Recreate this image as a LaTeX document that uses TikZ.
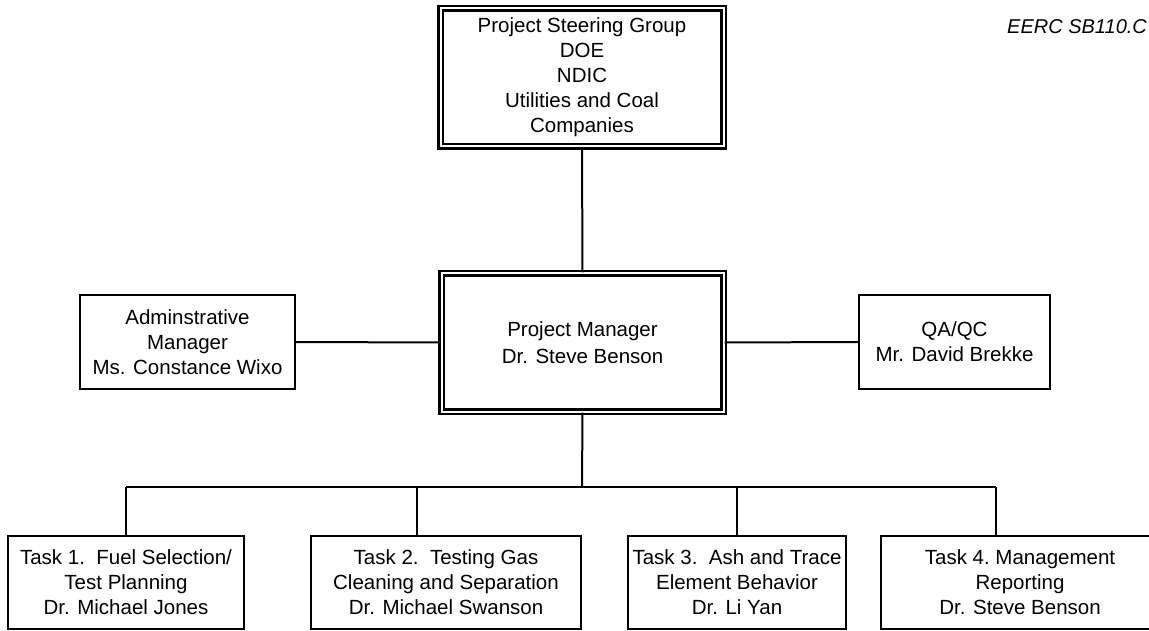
\documentclass[tikz,border=0pt]{standalone}
\usepackage{fontspec}
\setmainfont{Liberation Sans}
\begin{document}
\begin{tikzpicture}[x=1pt,y=-1pt,
  txt/.style={align=center,font=\fontsize{20.5}{25}\selectfont,inner sep=0pt},
  onebox/.style={txt,draw,line width=2pt},
  twobox/.style={txt,draw,double,double distance=2pt,line width=2.3pt},
  link/.style={line width=2pt}]
\useasboundingbox (0,0) rectangle (1149,631);
\fill[white] (0,0) rectangle (1149,631);
% boxes
\node[twobox,minimum width=283pt,minimum height=138pt] (top) at (582,77.5)
  {Project Steering Group\\DOE\\NDIC\\Utilities and Coal\\Companies};
\node[twobox,minimum width=282pt,minimum height=138pt] (pm) at (582.5,342.5)
  {Project Manager\\[2pt]Dr. Steve Benson};
\node[onebox,minimum width=215pt,minimum height=94pt] (admin) at (187.5,342)
  {Adminstrative\\Manager\\Ms. Constance Wixo};
\node[onebox,minimum width=191pt,minimum height=94pt] (qa) at (954.5,342)
  {QA/QC\\Mr. David Brekke};
\node[onebox,minimum width=236pt,minimum height=93pt] (t1) at (126,582.5)
  {Task 1.\ \ Fuel Selection/\\Test Planning\\Dr. Michael Jones};
\node[onebox,minimum width=270pt,minimum height=93pt] (t2) at (446,582.5)
  {Task 2.\ \ Testing Gas\\Cleaning and Separation\\Dr. Michael Swanson};
\node[onebox,minimum width=218pt,minimum height=93pt] (t3) at (737,582.5)
  {Task 3.\ \ Ash and Trace\\Element Behavior\\Dr. Li Yan};
\node[onebox,minimum width=278pt,minimum height=93pt] (t4) at (1020,582.5)
  {Task 4.\ Management\\Reporting\\Dr. Steve Benson};
\node[font=\fontsize{20}{24}\selectfont\itshape,anchor=west,inner sep=0pt] (code) at (1007,27) {EERC SB110.C};
% connectors
\coordinate (bus) at (582,487);
\coordinate (b1) at (126,487);
\coordinate (b2) at (417,487);
\coordinate (b3) at (737,487);
\coordinate (b4) at (996,487);
\draw[link] (top.south) -- (pm.north);
\draw[link] (admin.east) -- (pm.west);
\draw[link] (pm.east) -- (qa.east -| qa.west);
\draw[link] (pm.south) -- (bus);
\draw[link] (b1) -- (b4);
\draw[link] (b1) -- (b1 |- t1.north);
\draw[link] (b2) -- (b2 |- t2.north);
\draw[link] (b3) -- (b3 |- t3.north);
\draw[link] (b4) -- (b4 |- t4.north);
\end{tikzpicture}
\end{document}
